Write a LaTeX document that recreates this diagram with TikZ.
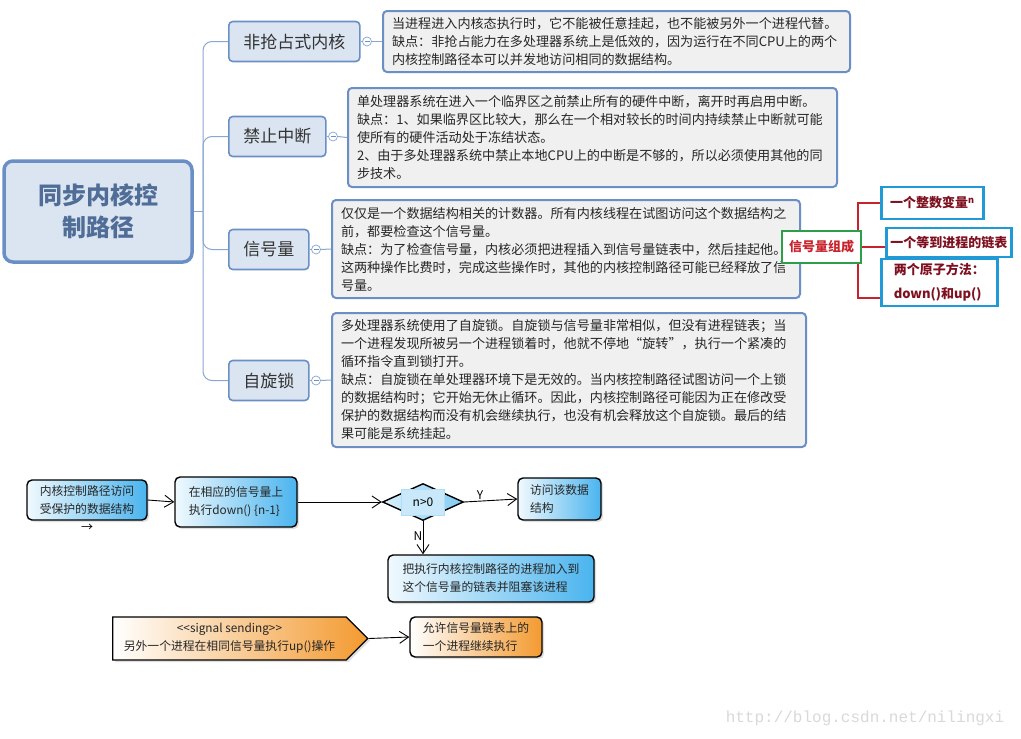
\documentclass[tikz,border=0pt]{standalone}
\usepackage{fontspec}
\setmainfont{Noto Sans CJK SC}
\newfontfamily\urlfont{Liberation Mono}
\usetikzlibrary{shapes.geometric,shapes.symbols,shadows,arrows.meta}

\definecolor{mapblue}{HTML}{6A8FC4}
\definecolor{mapline}{HTML}{8AA8CF}
\definecolor{mapfill}{HTML}{DBE5F1}
\definecolor{notefill}{HTML}{F0F0F0}
\definecolor{rootblue}{HTML}{4F6D96}
\definecolor{grpred}{HTML}{C8232C}
\definecolor{grpgreen}{HTML}{2E9E48}
\definecolor{memblue}{HTML}{1F9AD6}
\definecolor{memred}{HTML}{7E1020}
\definecolor{flowblue}{HTML}{4AB4EE}
\definecolor{floworange}{HTML}{F39A30}

\tikzset{
  rootbox/.style={draw=mapblue, line width=3.5pt, fill=mapfill, rounded corners=9pt,
    minimum width=188pt, minimum height=101pt, align=center,
    font=\fontsize{24}{32}\selectfont\bfseries, text=rootblue},
  branch/.style={draw=mapblue, line width=1.6pt, fill=mapfill, rounded corners=4pt,
    minimum height=40pt, anchor=west, font=\fontsize{17}{20}\selectfont, text=black!80},
  note/.style={draw=mapblue, line width=2pt, fill=notefill, rounded corners=4pt,
    anchor=west, align=left, inner xsep=9pt, font=\fontsize{13.1}{18}\selectfont, text=black!85},
  collapse/.style={circle, draw=mapblue!80, fill=white, line width=0.7pt, minimum size=9pt,
    inner sep=0pt, path picture={\draw[mapblue] ([xshift=2pt]path picture bounding box.west)
      -- ([xshift=-2pt]path picture bounding box.east);}},
  link/.style={draw=mapline, line width=1pt},
  grpbox/.style={draw=grpgreen, line width=2.2pt, fill=white, minimum width=79pt,
    minimum height=32pt, font=\fontsize{13}{16}\selectfont\bfseries, text=grpred},
  member/.style={draw=memblue, line width=2.5pt, fill=white, anchor=west, align=left,
    font=\fontsize{13}{24}\selectfont\bfseries, text=memred},
  bracket/.style={draw=grpred, line width=2.5pt},
  flowbox/.style={draw=black, line width=1.4pt, rounded corners=5pt,
    left color=flowblue!8, right color=flowblue,
    drop shadow={shadow xshift=2pt, shadow yshift=-2pt, opacity=.25},
    align=left, font=\fontsize{11.8}{18}\selectfont, text=black!85},
  orangebox/.style={flowbox, left color=white, right color=floworange},
  flowarrow/.style={-{Straight Barb[length=9pt,width=12pt]}, line width=0.9pt}
}

\begin{document}
\begin{tikzpicture}[x=1pt, y=-1pt]
\fill[white] (0,0) rectangle (1021,739);
\useasboundingbox (0,0) rectangle (1021,739);

% mind map
\node[rootbox] (root) at (98,211.5) {同步内核控\\制路径};

\node[branch, minimum width=131pt] (b1) at (228,41.5) {非抢占式内核};
\node[branch, minimum width=97pt] (b2) at (228,136.5) {禁止中断};
\node[branch, minimum width=80pt] (b3) at (228,249.5) {信号量};
\node[branch, minimum width=80pt] (b4) at (228,380.5) {自旋锁};

\node[collapse] (c1) at (367,41.5) {};
\node[collapse] (c2) at (333,136.5) {};
\node[collapse] (c3) at (316,249.5) {};
\node[collapse] (c4) at (316,380.5) {};

\node[note, text width=449pt, minimum height=61pt] (t1) at (382,41.5) {%
当进程进入内核态执行时，它不能被任意挂起，也不能被另外一个进程代替。\\
缺点：非抢占能力在多处理器系统上是低效的，因为运行在不同CPU上的两个\\
内核控制路径本可以并发地访问相同的数据结构。};
\node[note, text width=471pt, minimum height=99pt] (t2) at (347,137.5) {%
单处理器系统在进入一个临界区之前禁止所有的硬件中断，离开时再启用中断。\\
缺点：1、如果临界区比较大，那么在一个相对较长的时间内持续禁止中断就可能\\
使所有的硬件活动处于冻结状态。\\
2、由于多处理器系统中禁止本地CPU上的中断是不够的，所以必须使用其他的同\\
步技术。};
\node[note, text width=450pt, minimum height=98pt] (t3) at (331,249) {%
仅仅是一个数据结构相关的计数器。所有内核线程在试图访问这个数据结构之\\
前，都要检查这个信号量。\\
缺点：为了检查信号量，内核必须把进程插入到信号量链表中，然后挂起他。\\
这两种操作比费时，完成这些操作时，其他的内核控制路径可能已经释放了信\\
号量。};
\node[note, text width=456pt, minimum height=134pt] (t4) at (331,380) {%
多处理器系统使用了自旋锁。自旋锁与信号量非常相似，但没有进程链表；当\\
一个进程发现所被另一个进程锁着时，他就不停地“旋转”，执行一个紧凑的\\
循环指令直到锁打开。\\
缺点：自旋锁在单处理器环境下是无效的。当内核控制路径试图访问一个上锁\\
的数据结构时；它开始无休止循环。因此，内核控制路径可能因为正在修改受\\
保护的数据结构而没有机会继续执行，也没有机会释放这个自旋锁。最后的结\\
果可能是系统挂起。};

\coordinate (trunk) at (203,211.5);
\draw[link] (root.east) -- (trunk);
\foreach \i in {1,...,4}{
  \draw[link, rounded corners=9pt] (trunk) |- (b\i.west);
  \draw[link] (b\i.east) -- (c\i.west);
  \draw[link] (c\i.east) -- (t\i.west);
}

% signal members
\node[member, minimum width=102pt, minimum height=32pt] (m1) at (880,203) {一个整数变量\textsuperscript{n}};
\node[member, minimum width=125pt, minimum height=29pt] (m2) at (885,242.5) {一个等到进程的链表};
\node[member, minimum width=116pt, minimum height=47pt] (m3) at (880,282.5) {两个原子方法：\\down()和up()};
\draw[bracket] (m1.west) -- (858,203) -- (858,298) -- (m3.west |- 858,298);

\node[grpbox] (grp) at (821.5,247) {信号量组成};
\draw[bracket] (grp.east) -- (m2.west |- grp.east);

% flow
\node[flowbox, minimum width=120pt, minimum height=40pt] (src) at (87,500) {内核控制路径访问\\受保护的数据结构};
\node[font=\fontsize{12}{12}\selectfont] (hint) at (87,528) {→};
\node[flowbox, minimum width=122pt, minimum height=50pt] (down) at (236,502) {在相应的信号量上\\执行down() \{n-1\}};
\node[diamond, draw=black, line width=1.4pt, left color=flowblue!20, right color=flowblue!70,
  minimum width=81pt, minimum height=37pt, inner sep=0pt] (dec) at (423,502) {};
\node[draw=flowblue!45, fill=flowblue!30, minimum width=43pt, minimum height=26pt,
  font=\fontsize{12}{14}\selectfont] (decin) at (dec) {n>0};
\node[flowbox, minimum width=83pt, minimum height=42pt] (access) at (559.5,499) {访问该数据\\结构};
\node[flowbox, minimum width=206pt, minimum height=47pt] (block) at (491,578.5) {把执行内核控制路径的进程加入到\\这个信号量的链表并阻塞该进程};

\draw[flowarrow] (src.east) -- (down.west);
\draw[flowarrow] (down.east) -- (dec.west);
\draw[flowarrow] (dec.east) -- (access.west);
\draw[flowarrow] (dec.south) -- (dec.south |- block.north);
\node[font=\fontsize{12}{14}\selectfont] (ylab) at (480,495) {Y};
\node[font=\fontsize{12}{14}\selectfont] (nlab) at (418,536) {N};

\node[signal, signal to=east, orangebox, rounded corners=0pt, align=center,
  minimum width=255pt, minimum height=43pt] (up) at (229.5,638.5)
  {<{}<signal sending>{}>\\另外一个进程在相同信号量执行up()操作};
\node[orangebox, minimum width=132pt, minimum height=40pt] (wake) at (476,637) {允许信号量链表上的\\一个进程继续执行};
\draw[flowarrow] (up.east) -- (wake.west);

\node[font=\urlfont\fontsize{16}{18}\selectfont, text=black!15] (mark) at (865,718) {http://blog.csdn.net/nilingxi};
\end{tikzpicture}
\end{document}
